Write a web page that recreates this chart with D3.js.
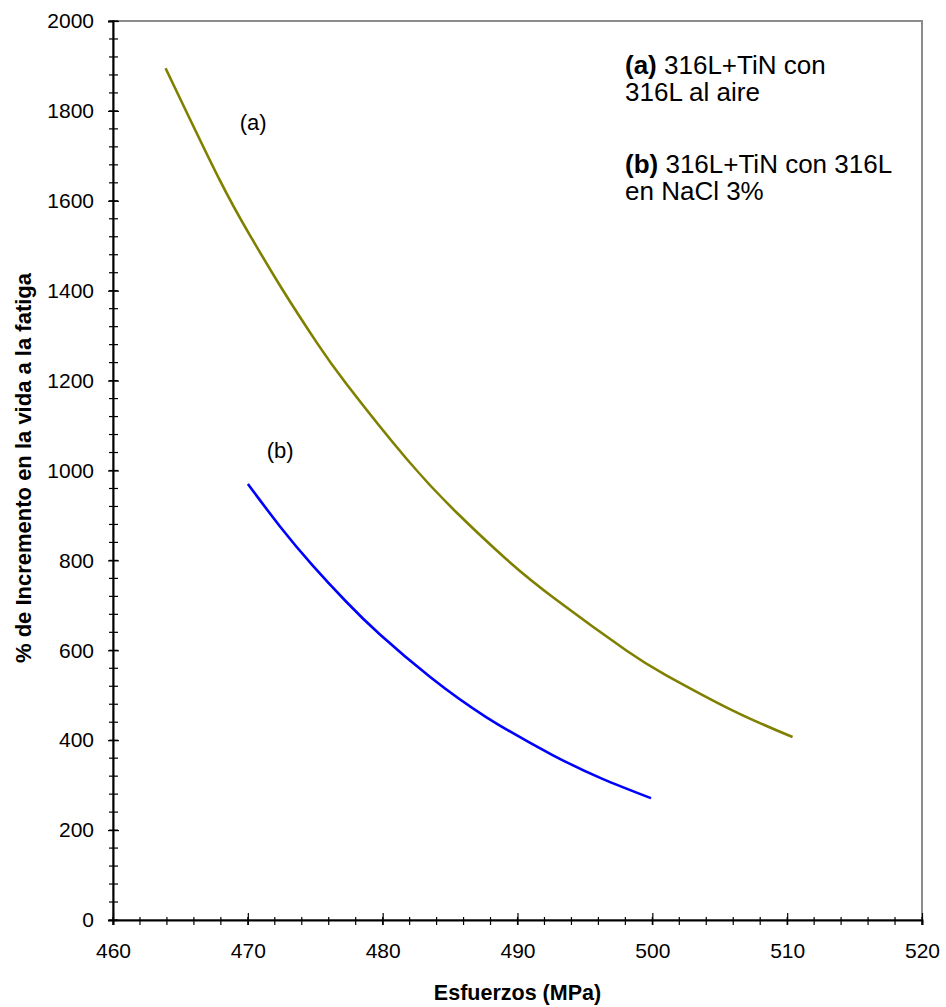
<!DOCTYPE html>
<html>
<head>
<meta charset="utf-8">
<script src="https://cdn.jsdelivr.net/npm/d3@7"></script>
<style>
  body { margin: 0; background: #fff; }
  svg { display: block; font-family: "Liberation Sans", Arial, sans-serif; }
</style>
</head>
<body>
<div id="chart"></div>
<script>
// Curva (a): 316L+TiN con 316L al aire
const stressA = [463.9, 467.9, 470.2, 472.6, 475.1, 477.3, 481.8, 485.5, 489.2, 492.9, 498.1, 501.0, 505.9, 510.4];
const incrA   = [1895, 1647, 1521, 1401, 1285, 1193, 1025, 906, 802, 712, 599, 545, 467, 407];

// Curva (b): 316L+TiN con 316L en NaCl 3%
const stressB = [470.0, 472.4, 474.8, 477.3, 479.8, 483.5, 487.7, 492.6, 496.3, 499.9];
const incrB   = [970, 875, 789, 708, 635, 541, 451, 367, 314, 271];

const xTicks = [460, 470, 480, 490, 500, 510, 520];
const yTicks = [0, 200, 400, 600, 800, 1000, 1200, 1400, 1600, 1800, 2000];

const width = 946, height = 1007;
const plotL = 113, plotR = 922, plotT = 21, plotB = 920;

const svg = d3.select("#chart").append("svg")
    .attr("width", width)
    .attr("height", height);

const x = d3.scaleLinear().domain([460, 520]).range([plotL, plotR]);
const y = d3.scaleLinear().domain([0, 2000]).range([plotB, plotT]);

// marco del area de trazado
svg.append("rect")
    .attr("x", plotL).attr("y", plotT)
    .attr("width", plotR - plotL).attr("height", plotB - plotT)
    .attr("fill", "none")
    .attr("stroke", "#8c8c8c")
    .attr("stroke-width", 2);

// ticks menores
const g = svg.append("g").attr("stroke", "#000").attr("stroke-width", 1.2);
g.selectAll(".xm").data(d3.range(460, 520.1, 2))
    .join("line")
    .attr("x1", d => x(d)).attr("x2", d => x(d))
    .attr("y1", plotB - 3).attr("y2", plotB + 5);
g.selectAll(".ym").data(d3.range(0, 2000.1, 40))
    .join("line")
    .attr("x1", plotL - 4).attr("x2", plotL + 5)
    .attr("y1", d => y(d)).attr("y2", d => y(d));

// ejes
const xAxis = svg.append("g")
    .attr("transform", `translate(0,${plotB})`)
    .call(d3.axisBottom(x).tickValues(xTicks).tickFormat(d3.format("d")).tickSize(5).tickPadding(18));
xAxis.selectAll(".tick line").attr("y1", -7).attr("stroke-width", 1.2);

const yAxis = svg.append("g")
    .attr("transform", `translate(${plotL},0)`)
    .call(d3.axisLeft(y).tickValues(yTicks).tickFormat(d3.format("d")).tickSize(5).tickPadding(14));
yAxis.selectAll(".tick line").attr("x1", 6).attr("stroke-width", 1.2);

[xAxis, yAxis].forEach(ax => {
    ax.select(".domain").attr("stroke", "#000").attr("stroke-width", 2);
    ax.selectAll(".tick text")
        .attr("fill", "#000")
        .style("font-size", "21px")
        .style("font-family", "'Liberation Sans', Arial, sans-serif");
});

// curvas
const line = d3.line()
    .x(d => x(d[0]))
    .y(d => y(d[1]))
    .curve(d3.curveNatural);

svg.append("path")
    .datum(d3.zip(stressA, incrA))
    .attr("fill", "none")
    .attr("stroke", "#808000")
    .attr("stroke-width", 2.6)
    .attr("d", line);

svg.append("path")
    .datum(d3.zip(stressB, incrB))
    .attr("fill", "none")
    .attr("stroke", "#0000ff")
    .attr("stroke-width", 2.6)
    .attr("d", line);

// etiquetas de las curvas
svg.append("text")
    .attr("x", x(470.4)).attr("y", y(1757))
    .attr("text-anchor", "middle")
    .style("font-size", "22px")
    .text("(a)");
svg.append("text")
    .attr("x", x(472.4)).attr("y", y(1028))
    .attr("text-anchor", "middle")
    .style("font-size", "22px")
    .text("(b)");

// leyenda
const legend = [
    { b: "(a)", t: " 316L+TiN con", y: 74 },
    { b: "", t: "316L al aire", y: 101 },
    { b: "(b)", t: " 316L+TiN con 316L", y: 173 },
    { b: "", t: "en NaCl 3%", y: 200 }
];
legend.forEach(l => {
    const t = svg.append("text")
        .attr("x", 625).attr("y", l.y)
        .style("font-size", "26px");
    if (l.b) t.append("tspan").attr("font-weight", "bold").text(l.b);
    t.append("tspan").text(l.t);
});

// titulos de ejes
svg.append("text")
    .attr("x", (plotL + plotR) / 2).attr("y", 1000)
    .attr("text-anchor", "middle")
    .attr("font-weight", "bold")
    .style("font-size", "21.5px")
    .text("Esfuerzos (MPa)");

svg.append("text")
    .attr("transform", `translate(31,468) rotate(-90)`)
    .attr("text-anchor", "middle")
    .attr("font-weight", "bold")
    .style("font-size", "22px")
    .text("% de Incremento en la vida a la fatiga");
</script>
</body>
</html>
